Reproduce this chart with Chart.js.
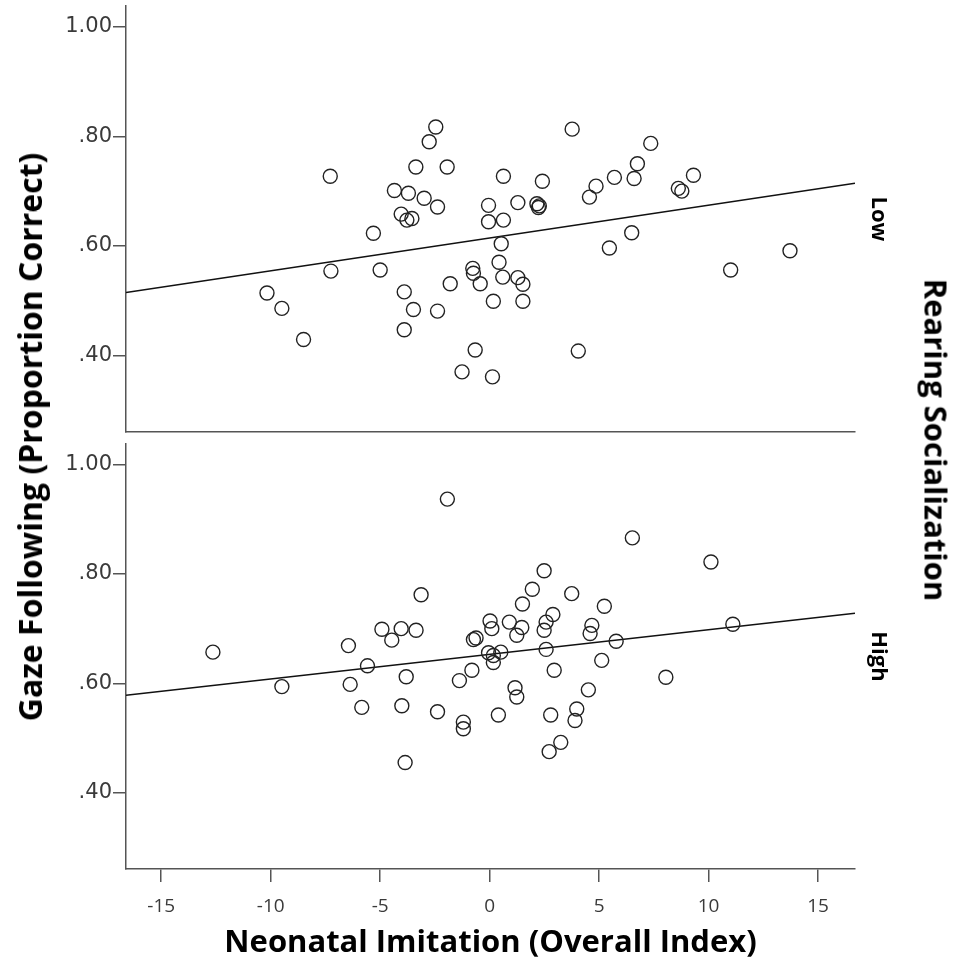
<!DOCTYPE html>
<html>
<head>
<meta charset="utf-8">
<script src="https://cdn.jsdelivr.net/npm/chart.js@4.4.1/dist/chart.umd.min.js"></script>
<style>
  html, body { margin: 0; padding: 0; background: #fff; }
  body { width: 965px; height: 968px; position: relative; overflow: hidden; }
  .panel { position: absolute; left: 0; width: 965px; }
  .vt { position: absolute; white-space: nowrap; font-family: "Open Sans", Lato, sans-serif; font-weight: bold; font-size: 31px; color: #000; line-height: 1; }
</style>
</head>
<body>
<div class="panel" id="topWrap" style="top:0;height:440px;"><canvas id="cTop"></canvas></div>
<div class="panel" id="botWrap" style="top:440px;height:528px;"><canvas id="cBot"></canvas></div>
<div class="vt" id="yTitle" style="left:30px;top:437px;font-size:32px;transform:translate(-50%,-50%) rotate(-90deg);">Gaze Following (Proportion Correct)</div>
<div class="vt" id="rTitle" style="left:936px;top:440px;transform:translate(-50%,-50%) rotate(90deg);">Rearing Socialization</div>
<script>
// ---- data ----
const xTicks = [-15, -10, -5, 0, 5, 10, 15];
const yTicks = [0.4, 0.6, 0.8, 1.0];
const yTickLabels = ['.40', '.60', '.80', '1.00'];
const panelLabels = ['Low', 'High'];

const lowX = [-2.46, -2.76, -7.28, -3.37, -1.94, 3.77, 7.36, -4.35, -3.71, -2.99,
              -2.38, -4.04, -3.78, -3.55, -0.05, -0.05, 0.63, 2.41, 1.29, 2.16,
              2.27, 2.23, 0.63, 0.53, 0.43, 0.60, -0.77, -0.74, -0.43, 0.17,
              1.29, 1.52, 1.52, -1.80, -3.90, -3.48, -2.38, -3.90, -7.25, -5.00,
              -5.31, -10.17, -9.49, -8.50, -0.66, -1.26, 0.13, 4.05, 4.56, 4.86,
              5.70, 6.60, 6.75, 9.31, 8.62, 8.78, 5.47, 6.49, 11.01, 13.72];
const lowY = [0.817, 0.790, 0.727, 0.744, 0.744, 0.813, 0.787, 0.701, 0.696, 0.687,
              0.671, 0.658, 0.647, 0.650, 0.674, 0.644, 0.727, 0.718, 0.679, 0.677,
              0.673, 0.670, 0.647, 0.604, 0.570, 0.543, 0.559, 0.550, 0.531, 0.499,
              0.542, 0.530, 0.499, 0.531, 0.516, 0.484, 0.481, 0.447, 0.554, 0.556,
              0.623, 0.514, 0.486, 0.429, 0.410, 0.370, 0.361, 0.408, 0.689, 0.709,
              0.725, 0.723, 0.750, 0.729, 0.705, 0.700, 0.596, 0.624, 0.556, 0.591];

const highX = [-1.93, -3.13, -12.64, -6.45, -4.92, -4.04, -3.36, -4.47, -0.74, -0.62,
               -5.58, -9.49, -6.37, -3.81, -0.81, -1.38, -5.84, -4.01, -2.38, -1.20,
               -1.20, -3.86, 6.52, 10.11, 2.49, 1.95, 3.75, 1.50, 5.24, 0.02,
               0.10, 0.90, 1.47, 1.24, 2.89, 2.58, 2.49, 4.67, 4.59, 11.11,
               5.78, 2.58, -0.05, 0.17, 0.51, 0.17, 2.95, 5.12, 8.05, 1.16,
               1.24, 4.51, 0.40, 2.79, 3.98, 3.90, 3.25, 2.72];
const highY = [0.937, 0.762, 0.657, 0.669, 0.699, 0.700, 0.697, 0.679, 0.680, 0.683,
               0.632, 0.594, 0.598, 0.612, 0.624, 0.605, 0.556, 0.559, 0.548, 0.529,
               0.517, 0.455, 0.866, 0.822, 0.806, 0.772, 0.764, 0.745, 0.741, 0.714,
               0.700, 0.712, 0.702, 0.688, 0.726, 0.712, 0.697, 0.706, 0.691, 0.708,
               0.677, 0.662, 0.656, 0.651, 0.657, 0.638, 0.624, 0.642, 0.611, 0.592,
               0.575, 0.588, 0.542, 0.542, 0.553, 0.532, 0.492, 0.475];

// fit lines (values read at the ends of the x range)
const fitX = [-16.61, 16.69];
const lowFitY = [0.515, 0.7145];
const highFitY = [0.578, 0.728];

// axis ranges
const xRange = [-16.61, 16.69];
const yRange = [0.2603, 1.0378];

// ---- drawing ----
const AXIS = '#555';
const TICKTXT = '#3a3a3a';

function pairs(xs, ys) { return xs.map((x, i) => ({ x: x, y: ys[i] })); }

function makeChart(canvasId, xs, ys, fitY, label, isBottom) {
  const ctx = document.getElementById(canvasId);
  return new Chart(ctx, {
    data: {
      datasets: [
        {
          type: 'scatter',
          data: pairs(xs, ys),
          pointRadius: 7,
          pointHoverRadius: 7,
          pointStyle: 'circle',
          borderColor: '#222',
          backgroundColor: 'rgba(0,0,0,0)',
          borderWidth: 1.4,
          xAxisID: 'x', yAxisID: 'y'
        },
        {
          type: 'line',
          data: pairs(fitX, fitY),
          borderColor: '#111',
          borderWidth: 1.5,
          pointRadius: 0,
          fill: false,
          tension: 0,
          xAxisID: 'x', yAxisID: 'y'
        }
      ]
    },
    options: {
      responsive: true,
      maintainAspectRatio: false,
      animation: false,
      events: [],
      layout: {
        autoPadding: false,
        padding: isBottom ? { top: 4, bottom: 0, left: 0, right: 70 } : { top: 6, bottom: 8, left: 0, right: 70 }
      },
      plugins: { legend: { display: false }, tooltip: { enabled: false } },
      scales: {
        x: {
          type: 'linear',
          position: 'bottom',
          min: xRange[0], max: xRange[1],
          afterBuildTicks: s => { s.ticks = xTicks.map(v => ({ value: v })); },
          afterFit: s => { s.height = isBottom ? 99 : 0; s.paddingLeft = 0; s.paddingRight = 0; s.paddingTop = 0; s.paddingBottom = 0; },
          ticks: {
            display: isBottom,
            autoSkip: false, maxRotation: 0, minRotation: 0,
            padding: 13,
            color: TICKTXT,
            font: { family: '"Liberation Sans Narrow", "Open Sans", sans-serif', size: 19 },
            callback: v => String(v)
          },
          grid: { display: true, drawOnChartArea: false, drawTicks: isBottom, tickLength: 13, color: AXIS, lineWidth: 1.5 },
          border: { display: true, color: AXIS, width: 1.5 },
          title: {
            display: isBottom,
            text: 'Neonatal Imitation (Overall Index)',
            color: '#000',
            font: { family: '"Open Sans", Lato, sans-serif', size: 31, weight: 'bold' },
            padding: { top: 0, bottom: 6 }
          }
        },
        y: {
          type: 'linear',
          position: 'left',
          min: yRange[0], max: yRange[1],
          afterBuildTicks: s => { s.ticks = yTicks.map(v => ({ value: v })); },
          afterFit: s => { s.width = 126; s.paddingTop = 0; s.paddingBottom = 0; },
          ticks: {
            autoSkip: false,
            padding: 1,
            color: TICKTXT,
            font: { family: '"DejaVu Sans", sans-serif', size: 21 },
            callback: (v, i) => yTickLabels[i]
          },
          grid: { display: true, drawOnChartArea: false, drawTicks: true, tickLength: 13, color: AXIS, lineWidth: 1.5 },
          border: { display: true, color: AXIS, width: 1.5 }
        },
        y2: {
          type: 'linear',
          position: 'right',
          min: 0, max: 1,
          afterFit: s => { s.width = 40; s.paddingTop = 0; s.paddingBottom = 0; },
          ticks: { display: false },
          grid: { display: false },
          border: { display: false },
          title: {
            display: true,
            text: label,
            color: '#000',
            font: { family: '"Open Sans", Lato, sans-serif', size: 22, weight: 'bold' },
            padding: { top: 4, bottom: 4 }
          }
        }
      }
    }
  });
}

makeChart('cTop', lowX, lowY, lowFitY, panelLabels[0], false);
makeChart('cBot', highX, highY, highFitY, panelLabels[1], true);
</script>
</body>
</html>
